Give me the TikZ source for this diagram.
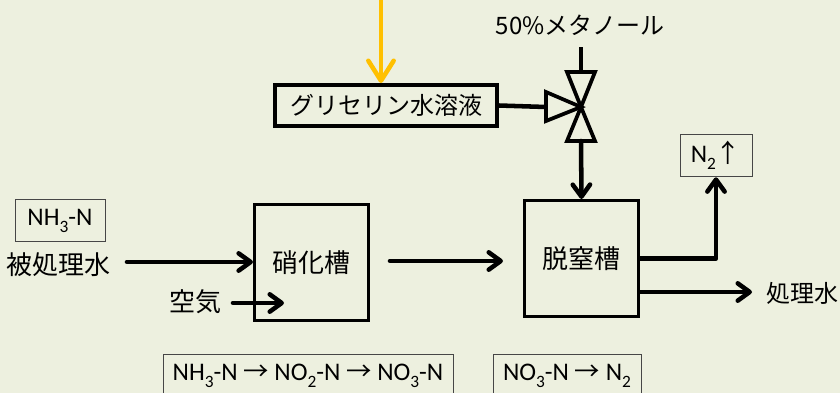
\documentclass[tikz,border=0pt]{standalone}
\usepackage{fontspec}
\setmainfont{Carlito}
\newfontfamily\jpfont{Noto Sans CJK JP}
\usetikzlibrary{arrows.meta}
\definecolor{bgcol}{RGB}{237,240,223}
\definecolor{feedcol}{RGB}{255,192,0}
\definecolor{tagline}{RGB}{70,70,70}
\newcommand\chemsub[1]{\raisebox{-0.28em}{\fontsize{13}{13}\selectfont #1}}

\begin{document}
\begin{tikzpicture}[x=0.75pt,y=0.75pt,yscale=-1,xscale=1,
  tank/.style={draw,line width=2.4pt,inner sep=0pt,minimum width=85.5pt,minimum height=87pt,font=\jpfont\fontsize{19.5}{21}\selectfont},
  tag/.style={draw=tagline,line width=0.75pt,inner sep=0pt,minimum height=32pt,font=\fontsize{19}{21}\selectfont},
  lbl/.style={inner sep=0pt,font=\jpfont\fontsize{19.5}{21}\selectfont},
  pipe/.style={line width=3.4pt},
  flow/.style={line width=3.4pt,line cap=round,line join=round,-{Straight Barb[length=9pt,width=13pt,round]}},
  valveln/.style={line width=2.8pt,line join=miter}]
%set diagram size 840 x 393
\fill [bgcol] (0,0) rectangle (840,393);
\useasboundingbox (0,0) rectangle (840,393);

%Shape: Rectangle [glycerin]
\node [draw,line width=3pt,inner sep=0pt,minimum width=166.5pt,minimum height=30.75pt,font=\jpfont\fontsize{18}{20}\selectfont] (glyc) at (386,105.5) {グリセリン水溶液};
%Shape: Rectangle [nitrification tank]
\node [tank] (nitri) at (311.5,262.5) {硝化槽};
%Shape: Rectangle [denitrification tank]
\node [tank] (denit) at (581.5,258.5) {脱窒槽};

% Text Node
\node [tag,minimum width=67.5pt] (rawtag) at (60,220.5) {NH\chemsub{3}-N};
% Text Node
\node [tag,minimum width=54pt] (gas) at (716,155.5) {N\chemsub{2}{\jpfont ↑}};
% Text Node
\node [tag,minimum width=217.5pt] (nitrx) at (308,375.5) {NH\chemsub{3}-N {\jpfont →} NO\chemsub{2}-N {\jpfont →} NO\chemsub{3}-N};
% Text Node
\node [tag,minimum width=111pt] (denrx) at (567,375.5) {NO\chemsub{3}-N {\jpfont →} N\chemsub{2}};
% Text Node
\node [lbl] (raw) at (59,265) {被処理水};
% Text Node
\node [lbl] (air) at (195,302) {空気};
% Text Node
\node [lbl,anchor=east,font=\jpfont\fontsize{18}{20}\selectfont] (treated) at (839,293) {処理水};
% Text Node
\node [lbl,font=\jpfont\fontsize{18}{20}\selectfont] (meth) at (580,25) {50\%メタノール};

%Straight Lines [feed]
\coordinate (feed) at (381,0);
\draw [feedcol,line width=3.4pt,line cap=round,-{Straight Barb[length=15pt,width=19pt,round]}] (feed) -- (feed |- glyc.north);

%Shape: Valve
\coordinate (valve) at (581,107);
\coordinate (valveW) at (546,107);
\coordinate (valveN) at (581,72);
\coordinate (valveS) at (581,141);
\draw [valveln] (546,92) -- (546,121) -- (valve) -- cycle;
\draw [valveln] (567,72) -- (595,72) -- (valve) -- cycle;
\draw [valveln] (567,141) -- (595,141) -- (valve) -- cycle;

%Straight Lines
\coordinate (methin) at (581,47);
\draw [pipe] (methin) -- (valveN);
\draw [pipe] (glyc.east) -- (valveW);
\draw [flow] (valveS) -- (denit.north);

%Straight Lines
\coordinate (rawout) at (127,262);
\draw [flow] (rawout) -- (rawout -| nitri.west);
\coordinate (airout) at (233,303);
\coordinate (airin) at (284,303);
\draw [flow] (airout) -- (airin);
\coordinate (midout) at (390,261);
\coordinate (midin) at (503,261);
\draw [flow] (midout) -- (midin);

%Straight Lines
\draw [flow] (denit.east) -| (gas.south);
\coordinate (treatout) at (640,292);
\coordinate (treatin) at (752,292);
\draw [flow] (treatout) -- (treatin);

\end{tikzpicture}
\end{document}
